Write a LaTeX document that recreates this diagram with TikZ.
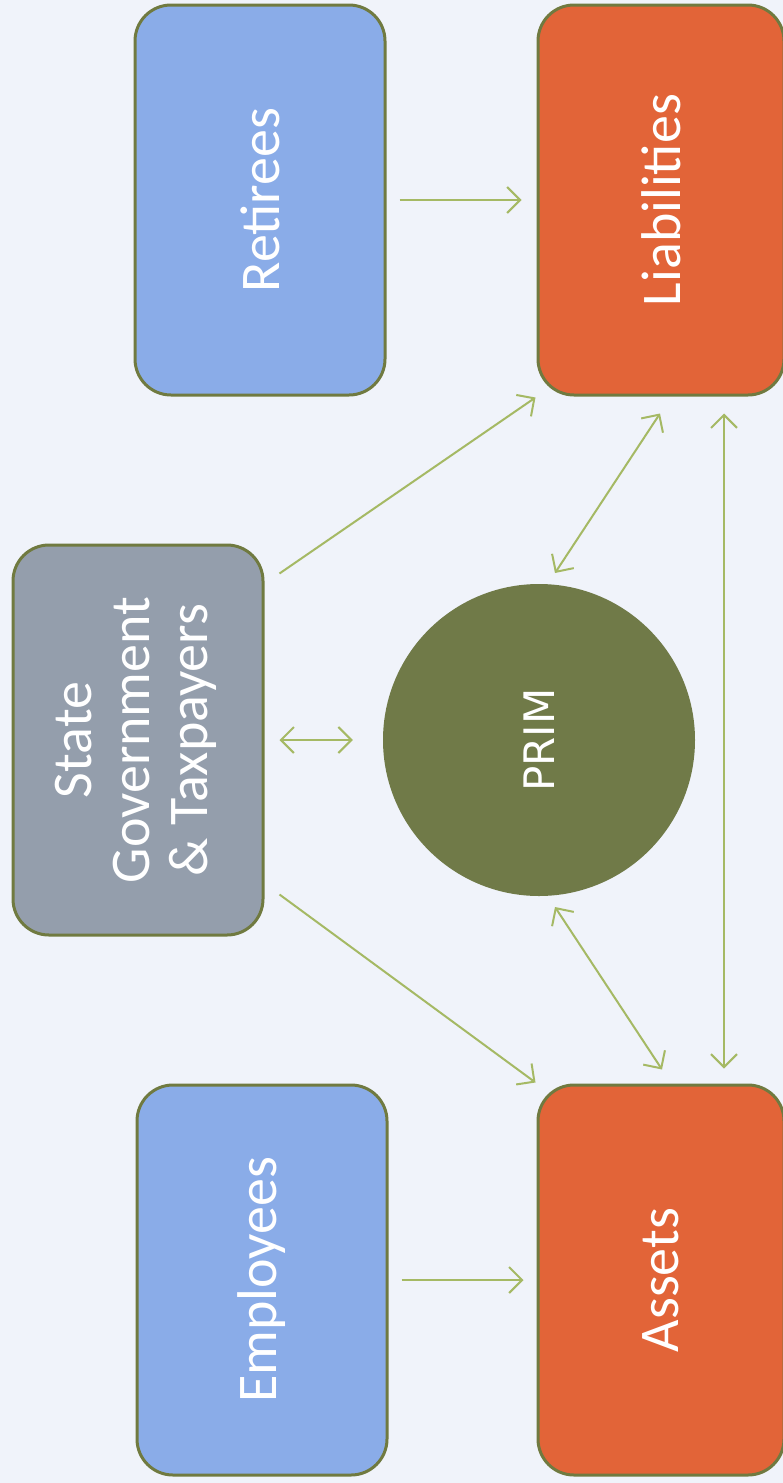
\documentclass[tikz,border=0pt]{standalone}
\usepackage{fontspec}
\setmainfont{Carlito}
\newfontfamily\primfont{DejaVu Sans}
\usetikzlibrary{arrows.meta,calc}
\definecolor{bgpaper}{RGB}{240,243,250}
\definecolor{edgeolive}{RGB}{112,122,64}
\definecolor{linkgreen}{RGB}{165,185,100}
\definecolor{boxblue}{RGB}{138,172,232}
\definecolor{boxorange}{RGB}{226,100,56}
\definecolor{boxgray}{RGB}{148,158,172}
\definecolor{primolive}{RGB}{112,122,72}
\begin{document}
\begin{tikzpicture}[x=1pt,y=-1pt,
  card/.style={draw=edgeolive, line width=3pt, rounded corners=36pt,
    minimum width=250pt, minimum height=390pt, inner sep=0pt,
    text=white, font=\fontsize{56}{58}\selectfont},
  hub/.style={circle, fill=primolive, minimum size=312pt, inner sep=0pt,
    text=white, font=\primfont\fontsize{42}{44}\selectfont},
  link/.style={draw=linkgreen, line width=2pt,
    -{Straight Barb[length=13pt,width=26pt,line width=2pt]}},
  dlink/.style={draw=linkgreen, line width=2pt,
    {Straight Barb[length=13pt,width=26pt,line width=2pt]}-{Straight Barb[length=13pt,width=26pt,line width=2pt]}}
]
\fill[bgpaper] (0,0) rectangle (783,1483);
\useasboundingbox (0,0) rectangle (783,1483);

\node[card, fill=boxblue] (ret) at (260,200) {\rotatebox{90}{Retirees}};
\node[card, fill=boxorange, minimum width=246pt] (lia) at (661,200) {\rotatebox{90}{Liabilities}};
\node[card, fill=boxgray] (sg) at (138,740)
  {\rotatebox{90}{\begin{tabular}{@{}c@{}}State\\Government\\\& Taxpayers\end{tabular}}};
\node[hub] (prim) at (539,740) {\rotatebox{90}{PRIM}};
\node[card, fill=boxblue] (emp) at (262,1280) {\rotatebox{90}{Employees}};
\node[card, fill=boxorange, minimum width=246pt] (ast) at (661,1280) {\rotatebox{90}{Assets}};

\draw[link, shorten <=13pt, shorten >=15pt] (ret.east) -- (lia.west);
\draw[link, shorten <=13pt, shorten >=13pt] (emp.east) -- (ast.west);
\draw[dlink, shorten <=15pt, shorten >=30pt] (sg.east) -- (prim.west);
\draw[link] ($(sg.north east)+(15,30)$) -- ($(lia.south west)+(-1,1)$);
\draw[link] ($(sg.south east)+(15,-42)$) -- ($(ast.north west)+(-1,-1)$);
\draw[dlink] ($(prim.center)+(16,-167)$) -- ($(lia.south)+(-1,17)$);
\draw[dlink] ($(prim.center)+(16,167)$) -- ($(ast.north)+(1,-14)$);
\draw[dlink] ($(lia.south)+(63,17)$) -- ($(ast.north)+(63,-15)$);
\end{tikzpicture}
\end{document}
